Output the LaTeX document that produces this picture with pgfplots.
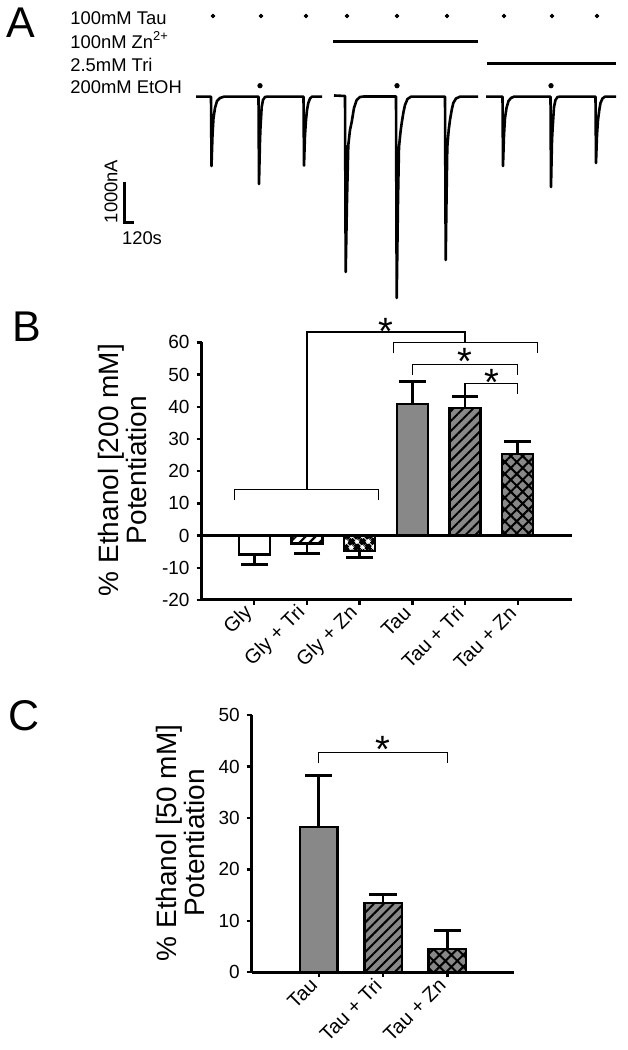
\documentclass[border=0pt]{standalone}
\usepackage{fontspec}
\setmainfont{Liberation Sans}
\usepackage{pgfplots}
\pgfplotsset{compat=1.18}
\usetikzlibrary{patterns.meta}
\definecolor{barGray}{RGB}{136,136,136}
\newcommand\fontA{\fontsize{9.2}{11}\selectfont}
\newcommand\fontStar{\fontsize{19}{19}\selectfont}
\pgfplotsset{
  errB/.style={error bars/.cd, y dir=#1, y explicit, error bar style={line width=1.4pt, black},
    error mark options={rotate=90, mark size=6.7pt, line width=1.4pt, black}},
  errC/.style={error bars/.cd, y dir=#1, y explicit, error bar style={line width=1.4pt, black},
    error mark options={rotate=90, mark size=6.8pt, line width=1.4pt, black}},
}

\begin{document}
\begin{tikzpicture}
\path[use as bounding box] (0,0) rectangle (313.5pt,525pt);
% ---------------- Panel A (pixel coordinates, y negative) ----------------
\begin{axis}[at={(0pt,0pt)}, anchor=south west, scale only axis,
  width=313.5pt, height=525pt, xmin=0, xmax=627, ymin=-1050, ymax=0,
  hide axis, clip=false]
\node[anchor=base west, inner sep=0, font=\fontsize{21.5}{21.5}\selectfont] at (axis cs:6,-38) {A};
\node[anchor=base west, inner sep=0, font=\fontsize{21.5}{21.5}\selectfont] at (axis cs:11.7,-342) {B};
\node[anchor=base west, inner sep=0, font=\fontsize{21.5}{21.5}\selectfont] at (axis cs:8,-731) {C};
\node[anchor=base west, inner sep=0, font=\fontA] at (axis cs:70,-25) {100mM Tau};
\node[anchor=base west, inner sep=0, font=\fontA] at (axis cs:70,-48.3) {100nM Zn\textsuperscript{2+}};
\node[anchor=base west, inner sep=0, font=\fontA] at (axis cs:70,-71.7) {2.5mM Tri};
\node[anchor=base west, inner sep=0, font=\fontA] at (axis cs:70,-93.3) {200mM EtOH};
\node[rotate=90, inner sep=0, font=\fontA] at (axis cs:111,-191.5) {1000nA};
\node[inner sep=0, font=\fontA] at (axis cs:142,-238) {120s};
% application marks
\addplot[only marks, mark=*, mark size=0.9pt, black] coordinates {(213,-16)(261,-16)(306,-16)(347,-16)(397,-16)(447,-16)(504,-16)(552,-16)(597,-16)};
\addplot[only marks, mark=*, mark size=1.1pt, black] coordinates {(260,-85.7)(397,-85.7)(551,-85.7)};
\addplot[black, line width=1.5pt] coordinates {(333,-41.7)(478,-41.7)};
\addplot[black, line width=1.5pt] coordinates {(487,-64)(616,-64)};
% scale bar
\addplot[black, line width=1.5pt] coordinates {(124,-182)(124,-223)(134,-223)};
% traces
\addplot[black, line width=1.3pt, line join=round] coordinates {
(196,-96.7)(211,-96.7)(211.5,-166)(212.5,-135)(213.5,-118)(215,-108)(217,-101)(220,-98)(224,-96.7)
(258.5,-96.7)(259,-184)(260,-140)(260.5,-127)(261.7,-107)(263,-100)(265,-97)(267,-96.7)
(303.5,-96.7)(304,-165.7)(305,-135)(306,-120)(307,-110)(308.3,-103)(310,-98.5)(312,-96.7)(322,-96.7)};
\addplot[black, line width=1.3pt, line join=round] coordinates {
(334,-95.5)(345,-96)(345.7,-272)(347,-200)(348.3,-145)(350,-130)(351.7,-122)(354,-108)(356.7,-100)(360,-97)(364,-96.5)
(396,-96.5)(396.7,-298)(398,-200)(399,-147)(400.5,-132)(401.7,-123)(403.5,-112)(405,-105)(407.5,-99)(411,-96.7)
(445,-96.7)(445.7,-260)(446.5,-200)(447.3,-147)(448.7,-130)(450,-120)(451.7,-110)(453.3,-103)(456,-98.5)(460,-96.7)(478,-96.7)};
\addplot[black, line width=1.3pt, line join=round] coordinates {
(486,-96.7)(502.5,-96.7)(503,-166)(504,-135)(505,-118)(506.5,-108)(508.5,-101)(511,-98)(514,-96.7)
(550.5,-96.7)(551,-187)(552,-140)(552.7,-127)(554,-107)(555.5,-100)(557.5,-97)(560,-96.7)
(595.5,-96.7)(596,-163)(597,-135)(598,-120)(599.3,-110)(600.5,-103)(602.5,-98.5)(605,-96.7)(616,-96.7)};
\end{axis}

% ---------------- Panel B ----------------
\begin{axis}[at={(100.8pt,225pt)}, anchor=south west, scale only axis,
  width=185.2pt, height=128.85pt,
  xmin=-1, xmax=6.03, ymin=-20, ymax=60, clip=false,
  axis x line*=bottom, axis y line*=left,
  axis line style={line width=1.5pt},
  tick style={line width=1.2pt, black}, major tick length=2.5pt, tick align=outside,
  ytick={-20,-10,...,60}, xtick={0,...,5},
  xticklabels={Gly, Gly + Tri, Gly + Zn, Tau, Tau + Tri, Tau + Zn},
  xticklabel style={rotate=45, anchor=east, font=\fontsize{10}{11}\selectfont},
  yticklabel style={font=\fontsize{9.5}{10}\selectfont},
  /pgf/number format/assume math mode=true,
  ylabel={\% Ethanol [200 mM]\\Potentiation},
  ylabel style={at={(axis description cs:-0.213,0.504)}, anchor=center, align=center, font=\fontsize{14}{13}\selectfont},
]
\addplot[ybar, bar shift=0pt, bar width=15.5pt, fill=white, draw=black, line width=1.25pt,
  errB=minus]
  coordinates {(0,-5.8) +- (0,3.3)};
\addplot[ybar, bar shift=0pt, bar width=15.5pt, fill=white, draw=black, line width=1.25pt,
  postaction={pattern={Lines[angle=45,distance=3.5pt,line width=1.1pt]}, pattern color=black},
  errB=minus]
  coordinates {(1,-2.4) +- (0,3.1)};
\addplot[ybar, bar shift=0pt, bar width=15.5pt, fill=white, draw=black, line width=1.25pt,
  postaction={pattern={Hatch[angle=45,distance=4pt,line width=2pt]}, pattern color=black},
  errB=minus]
  coordinates {(2,-4.8) +- (0,1.9)};
\addplot[ybar, bar shift=0pt, bar width=15.5pt, fill=barGray, draw=black, line width=1.25pt,
  errB=plus]
  coordinates {(3,40.8) +- (0,7.0)};
\addplot[ybar, bar shift=0pt, bar width=15.5pt, fill=barGray, draw=black, line width=1.25pt,
  postaction={pattern={Lines[angle=45,distance=3.5pt,line width=1pt]}, pattern color=black},
  errB=plus]
  coordinates {(4,39.6) +- (0,3.6)};
\addplot[ybar, bar shift=0pt, bar width=15.5pt, fill=barGray, draw=black, line width=1.25pt,
  postaction={pattern={Hatch[angle=45,distance=4.2pt,line width=1pt]}, pattern color=black},
  errB=plus]
  coordinates {(5,25.3) +- (0,3.9)};
% zero line
\addplot[black, line width=1.5pt] coordinates {(-1,0)(6.03,0)};
% significance brackets
\addplot[black, line width=0.6pt] coordinates {(-0.374,11.1)(-0.374,14.2)(2.355,14.2)(2.355,11.1)};
\addplot[black, line width=0.6pt] coordinates {(1,14.2)(1,63.2)(4,63.2)(4,60.06)};
\addplot[black, line width=0.6pt] coordinates {(2.64,56.6)(2.64,60.06)(5.37,60.06)(5.37,56.6)};
\addplot[black, line width=0.6pt] coordinates {(3,49.9)(3,53.2)(5,53.2)(5,49.9)};
\addplot[black, line width=0.6pt] coordinates {(4,43.2)(4,47.1)(5,47.1)(5,44.0)};
\node[font=\fontStar, inner sep=0, yshift=-4pt] at (axis cs:2.49,66) {*};
\node[font=\fontStar, inner sep=0, yshift=-4pt] at (axis cs:4.0,56.6) {*};
\node[font=\fontStar, inner sep=0, yshift=-4pt] at (axis cs:4.51,49.9) {*};
\end{axis}

% ---------------- Panel C ----------------
\begin{axis}[at={(125.85pt,38.85pt)}, anchor=south west, scale only axis,
  width=131.05pt, height=128.65pt,
  xmin=-1.042, xmax=3.034, ymin=0, ymax=50, clip=false,
  axis x line*=bottom, axis y line*=left,
  axis line style={line width=1.5pt},
  tick style={line width=1.2pt, black}, major tick length=2.5pt, tick align=outside,
  ytick={0,10,...,50}, xtick={0,1,2},
  xticklabels={Tau, Tau + Tri, Tau + Zn},
  xticklabel style={rotate=45, anchor=east, font=\fontsize{10}{11}\selectfont},
  yticklabel style={font=\fontsize{9.5}{10}\selectfont},
  /pgf/number format/assume math mode=true,
  ylabel={\% Ethanol [50 mM]\\Potentiation},
  ylabel style={at={(axis description cs:-0.272,0.5025)}, anchor=center, align=center, font=\fontsize{14}{13}\selectfont},
]
\addplot[ybar, bar shift=0pt, bar width=18.75pt, fill=barGray, draw=black, line width=1.25pt,
  errC=plus]
  coordinates {(0,28.2) +- (0,10.1)};
\addplot[ybar, bar shift=0pt, bar width=18.75pt, fill=barGray, draw=black, line width=1.25pt,
  postaction={pattern={Lines[angle=45,distance=3.5pt,line width=1pt]}, pattern color=black},
  errC=plus]
  coordinates {(1,13.5) +- (0,1.6)};
\addplot[ybar, bar shift=0pt, bar width=18.75pt, fill=barGray, draw=black, line width=1.25pt,
  postaction={pattern={Hatch[angle=45,distance=4.2pt,line width=1pt]}, pattern color=black},
  errC=plus]
  coordinates {(2,4.5) +- (0,3.6)};
\addplot[black, line width=0.6pt] coordinates {(0,40.6)(0,42.7)(2,42.7)(2,40.6)};
\node[font=\fontStar, inner sep=0, yshift=-4pt] at (axis cs:1.0,44.8) {*};
\end{axis}
\end{tikzpicture}
\end{document}
